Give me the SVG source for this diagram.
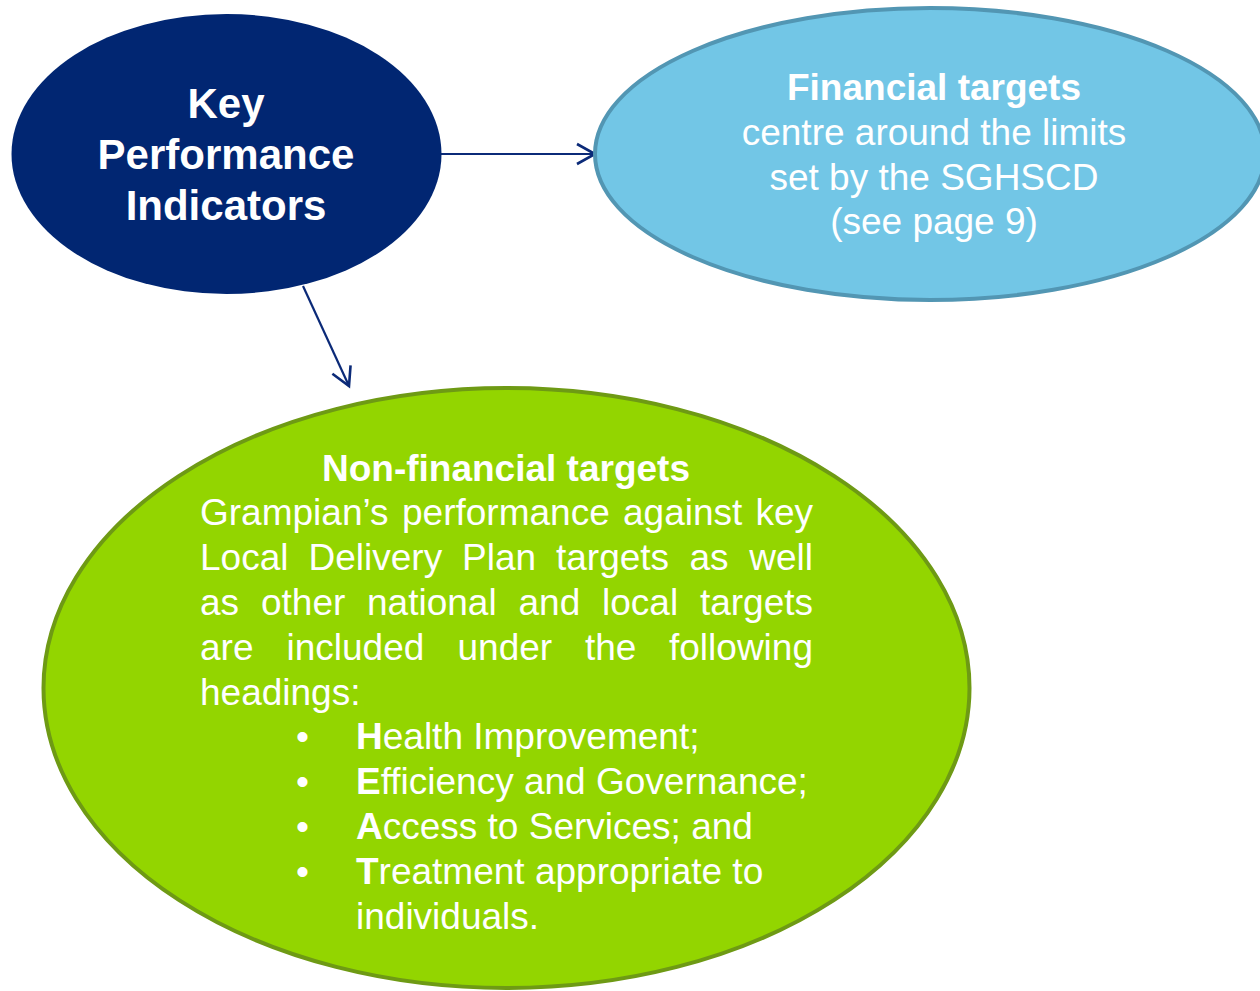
<svg xmlns="http://www.w3.org/2000/svg" width="1260" height="991" viewBox="0 0 1260 991">
  <style>
    text { font-family: "Liberation Sans", Arial, sans-serif; fill: #ffffff; }
    .kpi { font-size: 42px; font-weight: bold; text-anchor: middle; }
    .head { font-size: 37px; font-weight: bold; text-anchor: middle; }
    .body { font-size: 37px; }
    .mid { text-anchor: middle; }
    .conn { stroke: #0B2A78; stroke-width: 2.2; fill: none; }
  </style>
  <defs>
    <marker id="chev" markerUnits="userSpaceOnUse" markerWidth="26" markerHeight="26" viewBox="0 0 26 26" refX="21" refY="13" orient="auto">
      <path d="M3,3 L21,13 L3,23" fill="none" stroke="#0B2A78" stroke-width="2.6" stroke-linejoin="miter"/>
    </marker>
  </defs>
  <rect width="1260" height="991" fill="#ffffff"/>

  <!-- connectors -->
  <g id="connectors">
    <line class="conn" x1="441" y1="154" x2="595" y2="154" marker-end="url(#chev)"/>
    <line class="conn" x1="303" y1="286" x2="349" y2="386" marker-end="url(#chev)"/>
  </g>

  <!-- key performance indicators -->
  <g id="kpi">
    <ellipse cx="226.5" cy="154" rx="215" ry="140" fill="#012672"/>
    <text class="kpi" x="226" y="118">Key</text>
    <text class="kpi" x="226" y="169">Performance</text>
    <text class="kpi" x="226" y="220">Indicators</text>
  </g>

  <!-- financial targets -->
  <g id="financial">
    <ellipse cx="930" cy="154" rx="335" ry="146" fill="#72C6E6" stroke="#5296B3" stroke-width="4"/>
    <text class="head" x="934" y="100">Financial targets</text>
    <text class="body mid" x="934" y="145">centre around the limits</text>
    <text class="body mid" x="934" y="190">set by the SGHSCD</text>
    <text class="body mid" x="934" y="234">(see page 9)</text>
  </g>

  <!-- non-financial targets -->
  <g id="nonfinancial">
    <ellipse cx="506.5" cy="688" rx="463" ry="300" fill="#93D500" stroke="#6E9A14" stroke-width="4"/>
    <text class="head" x="506" y="481">Non-financial targets</text>
    <g class="body">
      <text class="body" x="200" y="525">Grampian’s</text>
      <text class="body" x="402" y="525">performance</text>
      <text class="body" x="623" y="525">against</text>
      <text class="body" x="813" y="525" text-anchor="end">key</text>

      <text class="body" x="200" y="570">Local</text>
      <text class="body" x="308.5" y="570">Delivery</text>
      <text class="body" x="462" y="570">Plan</text>
      <text class="body" x="556" y="570">targets</text>
      <text class="body" x="689.5" y="570">as</text>
      <text class="body" x="813" y="570" text-anchor="end">well</text>

      <text class="body" x="200" y="615">as</text>
      <text class="body" x="261" y="615">other</text>
      <text class="body" x="367" y="615">national</text>
      <text class="body" x="518.5" y="615">and</text>
      <text class="body" x="602" y="615">local</text>
      <text class="body" x="813" y="615" text-anchor="end">targets</text>

      <text class="body" x="200" y="660">are</text>
      <text class="body" x="286.5" y="660">included</text>
      <text class="body" x="457.5" y="660">under</text>
      <text class="body" x="585" y="660">the</text>
      <text class="body" x="813" y="660" text-anchor="end">following</text>

      <text class="body" x="200" y="705">headings:</text>

      <text class="body" x="296" y="749">•</text>
      <text class="body" x="356" y="749"><tspan font-weight="bold">H</tspan>ealth Improvement;</text>
      <text class="body" x="296" y="794">•</text>
      <text class="body" x="356" y="794"><tspan font-weight="bold">E</tspan>fficiency and Governance;</text>
      <text class="body" x="296" y="839">•</text>
      <text class="body" x="356" y="839"><tspan font-weight="bold">A</tspan>ccess to Services; and</text>
      <text class="body" x="296" y="884">•</text>
      <text class="body" x="356" y="884"><tspan font-weight="bold">T</tspan>reatment appropriate to</text>
      <text class="body" x="356" y="929">individuals.</text>
    </g>
  </g>
</svg>
